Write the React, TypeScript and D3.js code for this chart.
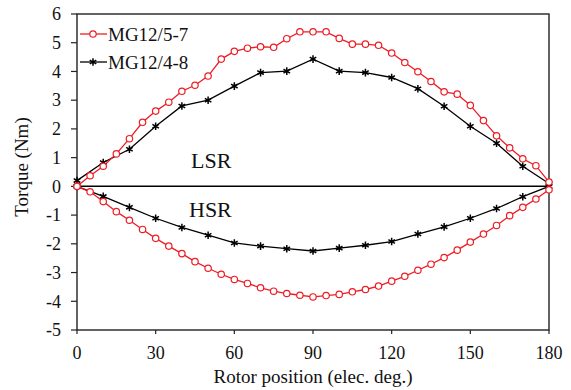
import React from "react";
import * as d3 from "d3";

const degFine = [0,5,10,15,20,25,30,35,40,45,50,55,60,65,70,75,80,85,90,95,100,105,110,115,120,125,130,135,140,145,150,155,160,165,170,175,180];
const degCoarse = [0,10,20,30,40,50,60,70,80,90,100,110,120,130,140,150,160,170,180];

const redUpper = [0,0.37,0.70,1.13,1.66,2.23,2.62,2.93,3.31,3.52,3.84,4.43,4.70,4.81,4.86,4.84,5.14,5.38,5.38,5.38,5.15,4.95,4.95,4.91,4.64,4.31,3.99,3.65,3.29,3.21,2.82,2.29,1.76,1.34,0.96,0.72,0.15];
const redLower = [0,-0.19,-0.53,-0.88,-1.18,-1.50,-1.81,-2.08,-2.34,-2.62,-2.85,-3.06,-3.24,-3.38,-3.53,-3.65,-3.73,-3.79,-3.85,-3.80,-3.76,-3.67,-3.59,-3.47,-3.30,-3.13,-2.92,-2.71,-2.48,-2.22,-1.94,-1.66,-1.36,-1.02,-0.73,-0.44,-0.12];
const blackUpper = [0.2,0.83,1.29,2.09,2.80,3.00,3.49,3.96,4.01,4.43,4.01,3.96,3.79,3.40,2.79,2.09,1.50,0.70,0.1];
const blackLower = [0,-0.35,-0.73,-1.11,-1.43,-1.70,-1.97,-2.08,-2.17,-2.25,-2.15,-2.05,-1.92,-1.66,-1.41,-1.11,-0.77,-0.36,0];

const xTicks = [0,30,60,90,120,150,180];
const yTicks = [-5,-4,-3,-2,-1,0,1,2,3,4,5,6];
const seriesNames = ["MG12/5-7", "MG12/4-8"];
const regionLabels = ["LSR", "HSR"];
const xTitle = "Rotor position (elec. deg.)";
const yTitle = "Torque (Nm)";

const RED = "#ee1c24";
const FONT = "'Liberation Serif', 'Times New Roman', serif";

export default function App() {
  const W = 571, H = 390;
  const left = 77, right = 549, top = 14, bottom = 330;
  const x = d3.scaleLinear().domain([0, 180]).range([left, right]);
  const y = d3.scaleLinear().domain([-5, 6]).range([bottom, top]);

  const line = d3.line<[number, number]>().x(d => x(d[0])).y(d => y(d[1]));
  const zip = (xs: number[], ys: number[]) => xs.map((v, i) => [v, ys[i]] as [number, number]);

  const rU = zip(degFine, redUpper);
  const rL = zip(degFine, redLower);
  const bU = zip(degCoarse, blackUpper);
  const bL = zip(degCoarse, blackLower);

  const star = d3.symbol().type(d3.symbolAsterisk).size(40)() as string;

  const circleMarkers = (pts: [number, number][], key: string) =>
    pts.map((p, i) => (
      <circle key={key + i} cx={x(p[0])} cy={y(p[1])} r={3.2} fill="white" stroke={RED} strokeWidth={1.2} />
    ));
  const starMarkers = (pts: [number, number][], key: string) =>
    pts.map((p, i) => (
      <path key={key + i} d={star} transform={`translate(${x(p[0])},${y(p[1])})`} fill="none" stroke="#000" strokeWidth={1.5} />
    ));

  return (
    <svg width={W} height={H} style={{ position: "absolute", left: 0, top: 0, background: "white" }} fontFamily={FONT}>
      <rect x={0} y={0} width={W} height={H} fill="white" />
      {/* frame */}
      <rect x={left} y={top} width={right - left} height={bottom - top} fill="none" stroke="#222" strokeWidth={1.4} />
      {/* zero line */}
      <line x1={left} x2={right} y1={y(0)} y2={y(0)} stroke="#000" strokeWidth={1.5} />
      {/* y ticks */}
      {yTicks.map(t => (
        <g key={"yt" + t}>
          <line x1={left - 6} x2={left} y1={y(t)} y2={y(t)} stroke="#222" strokeWidth={1.2} />
          <text x={61} y={y(t)} dy="0.35em" textAnchor="end" fontSize={18} fill="#111">{t}</text>
        </g>
      ))}
      {/* x ticks */}
      {xTicks.map(t => (
        <g key={"xt" + t}>
          <line x1={x(t)} x2={x(t)} y1={bottom} y2={bottom + 4} stroke="#222" strokeWidth={1.2} />
          <text x={x(t)} y={bottom + 29} textAnchor="middle" fontSize={18} fill="#111">{t}</text>
        </g>
      ))}
      <text x={(left + right) / 2} y={383} textAnchor="middle" fontSize={19} fill="#111">{xTitle}</text>
      <text transform={`translate(28,167) rotate(-90)`} textAnchor="middle" fontSize={19} fill="#111">{yTitle}</text>

      {/* series */}
      <path d={line(bU) as string} fill="none" stroke="#000" strokeWidth={1.3} />
      <path d={line(bL) as string} fill="none" stroke="#000" strokeWidth={1.3} />
      <path d={line(rU) as string} fill="none" stroke={RED} strokeWidth={1.3} />
      <path d={line(rL) as string} fill="none" stroke={RED} strokeWidth={1.3} />
      {starMarkers(bU, "bu")}
      {starMarkers(bL, "bl")}
      {circleMarkers(rU, "ru")}
      {circleMarkers(rL, "rl")}

      {/* region labels */}
      <text x={191} y={168} fontSize={22} fill="#111">{regionLabels[0]}</text>
      <text x={189} y={217} fontSize={22} fill="#111">{regionLabels[1]}</text>

      {/* legend */}
      <line x1={80} x2={107} y1={34} y2={34} stroke={RED} strokeWidth={1.3} />
      <circle cx={93} cy={34} r={3.2} fill="white" stroke={RED} strokeWidth={1.2} />
      <text x={108} y={41} fontSize={19} fill="#111">{seriesNames[0]}</text>
      <line x1={80} x2={107} y1={62} y2={62} stroke="#000" strokeWidth={1.3} />
      <path d={star} transform="translate(93,62)" fill="none" stroke="#000" strokeWidth={1.5} />
      <text x={108} y={69} fontSize={19} fill="#111">{seriesNames[1]}</text>
    </svg>
  );
}
